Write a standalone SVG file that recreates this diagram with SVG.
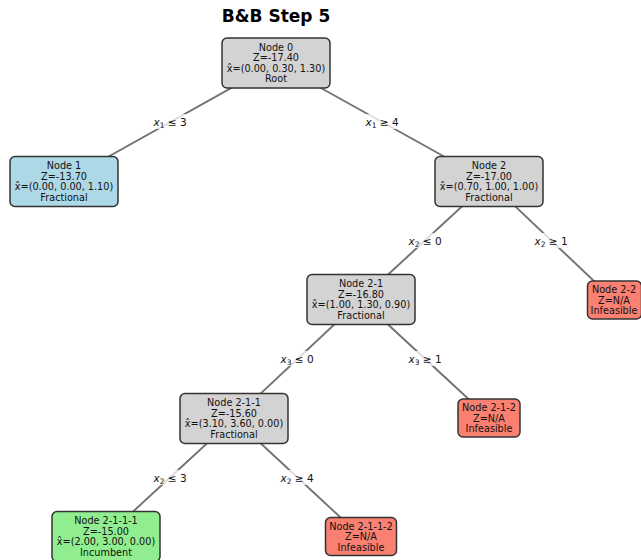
<svg xmlns="http://www.w3.org/2000/svg" width="641" height="560" viewBox="0 0 641 560">
<style>
.box{stroke:#333;stroke-width:1.5}
.gray{fill:#d3d3d3}.blue{fill:#add8e6}.red{fill:#fa8072}.green{fill:#90ee90}
.t{font-family:"DejaVu Sans",sans-serif;font-size:9.7px;fill:#111;text-anchor:middle}
.e{stroke:#727272;stroke-width:1.9;fill:none}
.lb{fill:#fff;fill-opacity:0.75}
.l{font-family:"DejaVu Sans",sans-serif;font-size:10.5px;fill:#111;text-anchor:middle}
.i{font-style:italic}
.s{font-size:7.5px}
.title{font-family:"DejaVu Sans",sans-serif;font-size:17px;font-weight:bold;fill:#000;text-anchor:middle}
</style>
<rect width="641" height="560" fill="#fff"/>
<text class="title" x="276" y="22">B&amp;B Step 5</text>
<g id="connectors">
<line class="e" x1="276" y1="63" x2="64" y2="181.5"/>
<line class="e" x1="276" y1="63" x2="489" y2="181.5"/>
<line class="e" x1="489" y1="181.5" x2="361" y2="299.5"/>
<line class="e" x1="489" y1="181.5" x2="614" y2="300"/>
<line class="e" x1="361" y1="299.5" x2="234" y2="418.5"/>
<line class="e" x1="361" y1="299.5" x2="489" y2="418"/>
<line class="e" x1="234" y1="418.5" x2="106" y2="536.5"/>
<line class="e" x1="234" y1="418.5" x2="361" y2="536.5"/>
<rect class="lb" x="152" y="114" width="36" height="15" rx="3"/>
<text class="l" x="170" y="126"><tspan class="i">x</tspan><tspan class="s" dy="2">1</tspan><tspan dy="-2"> ≤ 3</tspan></text>
<rect class="lb" x="364" y="114" width="36" height="15" rx="3"/>
<text class="l" x="382" y="126"><tspan class="i">x</tspan><tspan class="s" dy="2">1</tspan><tspan dy="-2"> ≥ 4</tspan></text>
<rect class="lb" x="407" y="233" width="36" height="15" rx="3"/>
<text class="l" x="425" y="245"><tspan class="i">x</tspan><tspan class="s" dy="2">2</tspan><tspan dy="-2"> ≤ 0</tspan></text>
<rect class="lb" x="533" y="233" width="36" height="15" rx="3"/>
<text class="l" x="551" y="245"><tspan class="i">x</tspan><tspan class="s" dy="2">2</tspan><tspan dy="-2"> ≥ 1</tspan></text>
<rect class="lb" x="279" y="351" width="36" height="15" rx="3"/>
<text class="l" x="297" y="363"><tspan class="i">x</tspan><tspan class="s" dy="2">3</tspan><tspan dy="-2"> ≤ 0</tspan></text>
<rect class="lb" x="407" y="351" width="36" height="15" rx="3"/>
<text class="l" x="425" y="363"><tspan class="i">x</tspan><tspan class="s" dy="2">3</tspan><tspan dy="-2"> ≥ 1</tspan></text>
<rect class="lb" x="152" y="470" width="36" height="15" rx="3"/>
<text class="l" x="170" y="482"><tspan class="i">x</tspan><tspan class="s" dy="2">2</tspan><tspan dy="-2"> ≤ 3</tspan></text>
<rect class="lb" x="279" y="470" width="36" height="15" rx="3"/>
<text class="l" x="297" y="482"><tspan class="i">x</tspan><tspan class="s" dy="2">2</tspan><tspan dy="-2"> ≥ 4</tspan></text>
</g>
<g id="node0">
<rect class="box gray" x="222" y="38" width="108" height="50" rx="5"/>
<text class="t"><tspan x="276" y="50.75">Node 0</tspan><tspan x="276" y="61.25">Z=-17.40</tspan><tspan x="276" y="71.75">x̂=(0.00, 0.30, 1.30)</tspan><tspan x="276" y="82.25">Root</tspan></text>
</g>
<g id="node1">
<rect class="box blue" x="10" y="156.5" width="108" height="50" rx="5"/>
<text class="t"><tspan x="64" y="169.25">Node 1</tspan><tspan x="64" y="179.75">Z=-13.70</tspan><tspan x="64" y="190.25">x̂=(0.00, 0.00, 1.10)</tspan><tspan x="64" y="200.75">Fractional</tspan></text>
</g>
<g id="node2">
<rect class="box gray" x="435" y="156.5" width="108" height="50" rx="5"/>
<text class="t"><tspan x="489" y="169.25">Node 2</tspan><tspan x="489" y="179.75">Z=-17.00</tspan><tspan x="489" y="190.25">x̂=(0.70, 1.00, 1.00)</tspan><tspan x="489" y="200.75">Fractional</tspan></text>
</g>
<g id="node2-1">
<rect class="box gray" x="307" y="274.5" width="108" height="50" rx="5"/>
<text class="t"><tspan x="361" y="287.25">Node 2-1</tspan><tspan x="361" y="297.75">Z=-16.80</tspan><tspan x="361" y="308.25">x̂=(1.00, 1.30, 0.90)</tspan><tspan x="361" y="318.75">Fractional</tspan></text>
</g>
<g id="node2-2">
<rect class="box red" x="587.5" y="281" width="54" height="38" rx="5"/>
<text class="t"><tspan x="614" y="293">Node 2-2</tspan><tspan x="614" y="303.5">Z=N/A</tspan><tspan x="614" y="314">Infeasible</tspan></text>
</g>
<g id="node2-1-1">
<rect class="box gray" x="180" y="393.5" width="108" height="50" rx="5"/>
<text class="t"><tspan x="234" y="406.25">Node 2-1-1</tspan><tspan x="234" y="416.75">Z=-15.60</tspan><tspan x="234" y="427.25">x̂=(3.10, 3.60, 0.00)</tspan><tspan x="234" y="437.75">Fractional</tspan></text>
</g>
<g id="node2-1-2">
<rect class="box red" x="458" y="399" width="62" height="38" rx="5"/>
<text class="t"><tspan x="489" y="411">Node 2-1-2</tspan><tspan x="489" y="421.5">Z=N/A</tspan><tspan x="489" y="432">Infeasible</tspan></text>
</g>
<g id="node2-1-1-1">
<rect class="box green" x="52" y="511.5" width="108" height="50" rx="5"/>
<text class="t"><tspan x="106" y="524.25">Node 2-1-1-1</tspan><tspan x="106" y="534.75">Z=-15.00</tspan><tspan x="106" y="545.25">x̂=(2.00, 3.00, 0.00)</tspan><tspan x="106" y="555.75">Incumbent</tspan></text>
</g>
<g id="node2-1-1-2">
<rect class="box red" x="325.5" y="517.5" width="71" height="38" rx="5"/>
<text class="t"><tspan x="361" y="529.5">Node 2-1-1-2</tspan><tspan x="361" y="540">Z=N/A</tspan><tspan x="361" y="550.5">Infeasible</tspan></text>
</g>
</svg>
